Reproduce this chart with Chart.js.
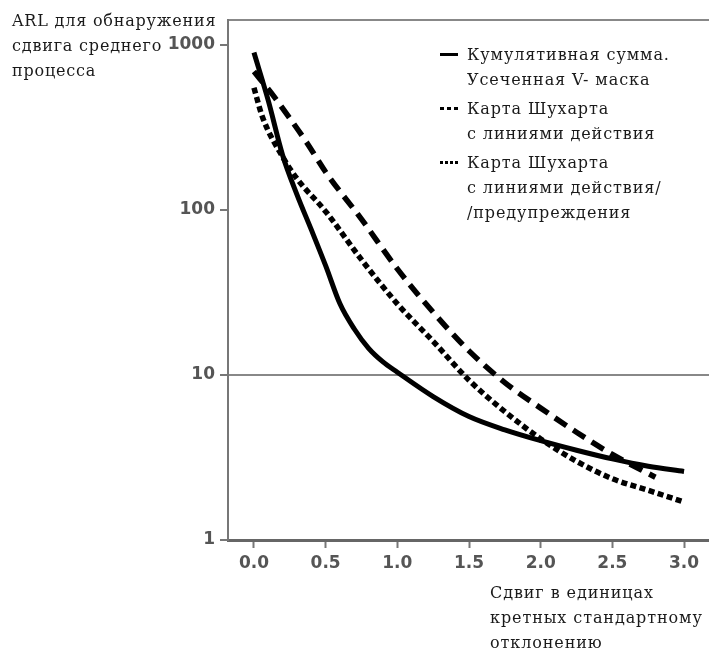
<!DOCTYPE html>
<html>
<head>
<meta charset="utf-8">
<script src="https://cdn.jsdelivr.net/npm/chart.js@4"></script>
<style>
  html, body { margin: 0; padding: 0; background: #fff; }
  #wrap { position: relative; width: 709px; height: 648px; }
  canvas { position: absolute; left: 0; top: 0; }
  .txt { position: absolute; font-family: 'DejaVu Serif', serif; font-size: 16px; color: #1a1a1a; line-height: 25px; white-space: nowrap; letter-spacing: 0.9px; }
  #yTitle { letter-spacing: 0.8px; }
  #legend .item { position: relative; padding-left: 27px; margin-bottom: 4px; }
  #legend .sample { position: absolute; left: 0; top: 11px; width: 18px; height: 3px; }
</style>
</head>
<body>
<div id="wrap">
  <canvas id="arlChart" width="709" height="648"></canvas>
  <div class="txt" id="yTitle" style="left:12px; top:8px;"></div>
  <div class="txt" id="xTitle" style="left:490px; top:580px;"></div>
  <div class="txt" id="legend" style="left:440px; top:42px;"></div>
</div>
<script>
(() => {
  // shift in sigma units, ARL values
  const cusumShift = [0, 0.1, 0.2, 0.3, 0.4, 0.5, 0.6, 0.7, 0.8, 0.9, 1.0, 1.25, 1.5, 1.75, 2.0, 2.25, 2.5, 2.75, 3.0];
  const cusumArl = [900, 460, 215, 124, 76, 46, 27, 19, 14.5, 12, 10.4, 7.4, 5.6, 4.65, 4.0, 3.5, 3.1, 2.8, 2.6];

  const actionShift = [0, 0.13, 0.25, 0.37, 0.5, 0.75, 1.0, 1.25, 1.5, 1.75, 2.0, 2.25, 2.5, 2.8];
  const actionArl = [690, 500, 360, 255, 170, 88, 44, 24, 14, 9.0, 6.3, 4.5, 3.3, 2.4];

  const warnShift = [0, 0.06, 0.2, 0.3, 0.5, 0.75, 1.0, 1.25, 1.5, 1.75, 2.0, 2.25, 2.5, 2.75, 3.0];
  const warnArl = [550, 365, 210, 155, 98, 50, 27, 16, 9.3, 6.0, 4.1, 3.0, 2.35, 2.0, 1.7];

  const xTicks = [0, 0.5, 1.0, 1.5, 2.0, 2.5, 3.0];
  const yTicks = [1, 10, 100, 1000];

  const seriesLabels = [
    ['Кумулятивная сумма.', 'Усеченная V- маска'],
    ['Карта Шухарта', 'с линиями действия'],
    ['Карта Шухарта', 'с линиями действия/', '/предупреждения']
  ];
  const yTitleLines = ['ARL для обнаружения', 'сдвига среднего', 'процесса'];
  const xTitleLines = ['Сдвиг в единицах', 'кретных стандартному', 'отклонению'];

  const toPoints = (xs, ys) => xs.map((x, i) => ({ x, y: ys[i] }));
  // legend samples: solid, "---", "----"
  const legendSamples = [
    '#000',
    'repeating-linear-gradient(90deg, #000 0 4px, transparent 4px 7px)',
    'repeating-linear-gradient(90deg, #000 0 3px, transparent 3px 5px)'
  ];

  const chart = new Chart(document.getElementById('arlChart').getContext('2d'), {
    type: 'line',
    data: {
      datasets: [
        { label: seriesLabels[0].join(' '), data: toPoints(cusumShift, cusumArl), borderColor: '#000', borderWidth: 5, borderDash: [] },
        { label: seriesLabels[1].join(' '), data: toPoints(actionShift, actionArl), borderColor: '#000', borderWidth: 5.5, borderDash: [14, 8] },
        { label: seriesLabels[2].join(' '), data: toPoints(warnShift, warnArl), borderColor: '#000', borderWidth: 5.5, borderDash: [6, 3.5] }
      ]
    },
    options: {
      responsive: false,
      animation: false,
      layout: { padding: 0 },
      elements: {
        point: { radius: 0 },
        line: { cubicInterpolationMode: 'monotone', fill: false }
      },
      plugins: { legend: { display: false }, tooltip: { enabled: false } },
      scales: {
        x: {
          type: 'linear',
          min: -0.181,
          max: 3.174,
          afterBuildTicks: (s) => { s.ticks = xTicks.map(v => ({ value: v })); },
          afterFit: (s) => { s.height = 108; },
          grid: { drawOnChartArea: false, tickLength: 8, tickColor: '#777', tickWidth: 2 },
          border: { color: '#666', width: 3 },
          ticks: {
            color: '#555',
            padding: 5,
            font: { family: 'DejaVu Sans', size: 17, weight: 'bold' },
            callback: (v) => v.toFixed(1)
          }
        },
        top: {
          type: 'linear',
          position: 'top',
          min: 0,
          max: 1,
          afterFit: (s) => { s.height = 20; },
          grid: { drawOnChartArea: false, drawTicks: false },
          border: { color: '#888', width: 2 },
          ticks: { display: false }
        },
        y: {
          type: 'logarithmic',
          min: 1,
          max: 1418,
          afterBuildTicks: (s) => { s.ticks = yTicks.map(v => ({ value: v })); },
          afterFit: (s) => { s.width = 228; },
          grid: {
            color: (c) => (c.tick && c.tick.value === 10 ? '#888' : 'rgba(0,0,0,0)'),
            lineWidth: 2,
            tickLength: 8,
            tickColor: '#777',
            tickWidth: 2
          },
          border: { color: '#777', width: 2 },
          ticks: {
            color: '#555',
            padding: 5,
            font: { family: 'DejaVu Sans', size: 17, weight: 'bold' },
            callback: (v) => String(v)
          }
        }
      }
    }
  });

  // text blocks
  document.getElementById('yTitle').innerHTML = yTitleLines.join('<br>');
  document.getElementById('xTitle').innerHTML = xTitleLines.join('<br>');

  const legendDiv = document.getElementById('legend');
  chart.data.datasets.forEach((ds, i) => {
    const item = document.createElement('div');
    item.className = 'item';
    const sample = document.createElement('span');
    sample.className = 'sample';
    sample.style.background = legendSamples[i];
    item.appendChild(sample);
    const text = document.createElement('span');
    text.innerHTML = seriesLabels[i].join('<br>');
    item.appendChild(text);
    legendDiv.appendChild(item);
  });
})();
</script>
</body>
</html>
